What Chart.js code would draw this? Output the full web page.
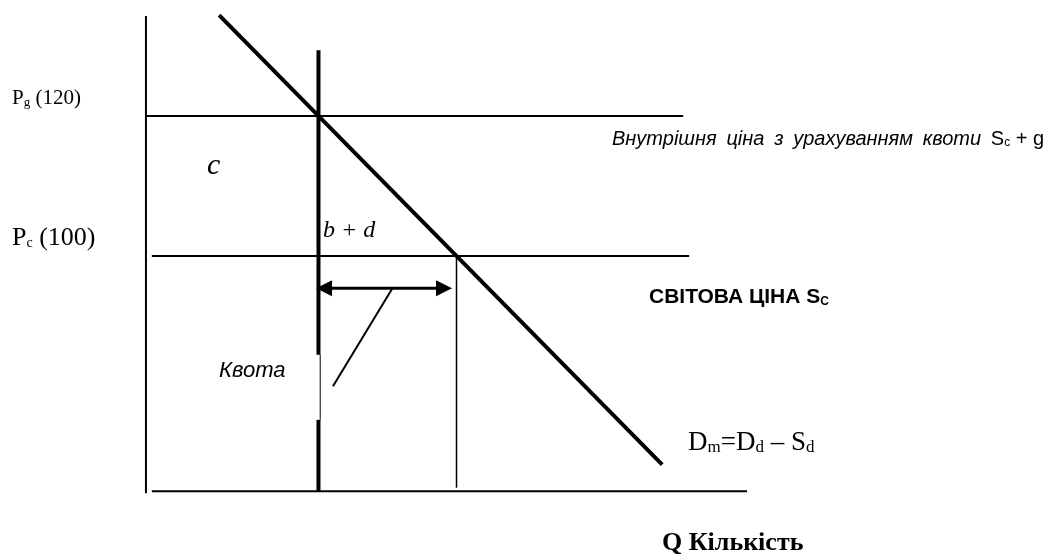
<!DOCTYPE html>
<html>
<head>
<meta charset="utf-8">
<script src="https://cdn.jsdelivr.net/npm/chart.js@4"></script>
<style>
  body { margin: 0; background: #fff; }
  #wrap { width: 1050px; height: 554px; }
</style>
</head>
<body>
<div id="wrap"><canvas id="quotaChart" width="1050" height="554"></canvas></div>
<script>
/* --------------- Price levels --------------- */
const pG = 120;          // domestic price with quota
const pC = 100;          // world price
const pBase = 66.4;      // level of the Q axis
/* --------------- Quantities --------------- */
const qQuota = 50;
const qImport = 90;
/* --------------- Demand for imports Dm = Dd - Sd --------------- */
const demandQ = [21.2, 149.6];
const demandP = [134.4, 70.2];
/* --------------- Axes and price lines (extents) --------------- */
const axisYP = [66.1, 134.3];
const axisXQ = [1.7, 174.2];
const lineGQ = [0, 155.7];
const lineCQ = [1.7, 157.4];
/* --------------- Quota line, thick parts and thin gap --------------- */
const quotaSolidP = [[pBase, 76.6], [85.9, 129.4]];
const quotaGapP = [76.6, 85.9];
const importLineP = [66.9, pC];
/* --------------- Arrow and pointer --------------- */
const arrowP = 95.4;
const arrowQ = [49.3, 88.7];
const pointerQ = [71.3, 54.2];
const pointerP = [95.3, 81.4];

const seg = (qs, ps) => qs.map((q, i) => ({ x: q, y: ps[i] }));

function line(data, width) {
  return {
    data: data,
    showLine: true,
    borderColor: "#000",
    borderWidth: width,
    pointRadius: 0,
    fill: false,
    tension: 0,
  };
}

const datasets = [
  line(seg([0, 0], axisYP), 2),
  line(seg(axisXQ, [pBase, pBase]), 2),
  line(seg(lineGQ, [pG, pG]), 2),
  line(seg(lineCQ, [pC, pC]), 2),
  line(seg(demandQ, demandP), 4),
  line(seg([qQuota, qQuota], quotaSolidP[0]), 4),
  line(seg([qQuota, qQuota], quotaSolidP[1]), 4),
  line(seg([qQuota + 0.5, qQuota + 0.5], quotaGapP), 1),
  line(seg([qImport, qImport], importLineP), 1.5),
  line(seg([arrowQ[0] + 3, arrowQ[1] - 3], [arrowP, arrowP]), 3),
  line(seg(pointerQ, pointerP), 2),
];

/* --------------- Text pieces: [text, font, dy, extra word spacing] --------------- */
const SERIF = "'Liberation Serif', 'Times New Roman', serif";
const SANS = "'Liberation Sans', Arial, sans-serif";

const labels = [
  { x: 12, y: 104, parts: [["P", "21px " + SERIF, 0], ["g", "13px " + SERIF, 2], [" (120)", "21px " + SERIF, 0]] },
  { x: 207, y: 174, parts: [["c", "italic 30px " + SERIF, 0]] },
  { x: 12, y: 245, parts: [["P", "26px " + SERIF, 0], ["c", "14px " + SERIF, 2], [" (100)", "26px " + SERIF, 0]] },
  { x: 323, y: 237, parts: [["b + d", "italic 24px " + SERIF, 0]] },
  { x: 612, y: 145, parts: [["Внутрішня ціна з урахуванням квоти ", "italic 20px " + SANS, 0, 4.2], ["S", "20px " + SANS, 0], ["c", "12px " + SANS, 1], [" + g", "20px " + SANS, 0]] },
  { x: 649, y: 303, parts: [["СВІТОВА ЦІНА S", "bold 21px " + SANS, 0], ["C", "bold 12px " + SANS, 2]] },
  { x: 219, y: 377, parts: [["Квота", "italic 22px " + SANS, 0]] },
  { x: 688, y: 450, parts: [["D", "27px " + SERIF, 0], ["m", "17px " + SERIF, 2], ["=D", "27px " + SERIF, 0], ["d", "17px " + SERIF, 2], [" – S", "27px " + SERIF, 0], ["d", "17px " + SERIF, 2]] },
  { x: 662, y: 550, parts: [["Q Кількість", "bold 26px " + SERIF, 0]] },
];

const overlay = {
  id: "overlay",
  afterDatasetsDraw(chart) {
    const ctx = chart.ctx;
    const xs = chart.scales.x, ys = chart.scales.y;
    ctx.save();
    ctx.fillStyle = "#000";
    // arrow heads
    const ay = ys.getPixelForValue(arrowP);
    const xl = xs.getPixelForValue(arrowQ[0]);
    const xr = xs.getPixelForValue(arrowQ[1]);
    const hl = 16, hw = 8;
    ctx.beginPath();
    ctx.moveTo(xl, ay); ctx.lineTo(xl + hl, ay - hw); ctx.lineTo(xl + hl, ay + hw); ctx.closePath();
    ctx.fill();
    ctx.beginPath();
    ctx.moveTo(xr, ay); ctx.lineTo(xr - hl, ay - hw); ctx.lineTo(xr - hl, ay + hw); ctx.closePath();
    ctx.fill();
    // labels
    ctx.textBaseline = "alphabetic";
    ctx.textAlign = "left";
    for (const l of labels) {
      let x = l.x;
      for (const [t, f, dy, ws] of l.parts) {
        ctx.font = f;
        for (const w of t.split(/( )/)) {
          if (!w) continue;
          ctx.fillText(w, x, l.y + dy);
          x += ctx.measureText(w).width + (w === " " ? (ws || 0) : 0);
        }
      }
    }
    ctx.restore();
  },
};

new Chart(document.getElementById("quotaChart"), {
  type: "scatter",
  data: { datasets: datasets },
  plugins: [overlay],
  options: {
    responsive: false,
    animation: false,
    layout: { padding: 0 },
    plugins: { legend: { display: false }, tooltip: { enabled: false } },
    scales: {
      x: { type: "linear", min: -42.3, max: 262.0, display: false },
      y: { type: "linear", min: 57.43, max: 136.57, display: false },
    },
  },
});
</script>
</body>
</html>
